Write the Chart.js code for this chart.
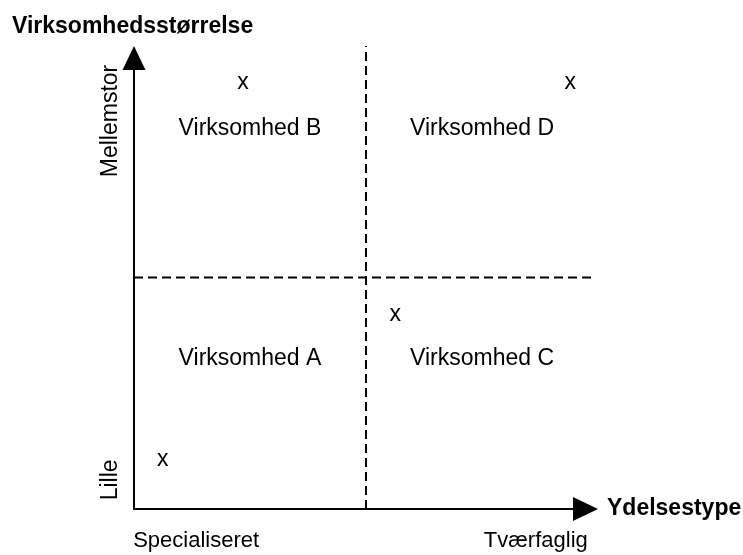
<!DOCTYPE html>
<html>
<head>
<meta charset="utf-8">
<script src="https://cdn.jsdelivr.net/npm/chart.js@4"></script>
<style>
  body { margin: 0; background: #fff; }
  #wrap { width: 743px; height: 555px; }
</style>
</head>
<body>
<div id="wrap"><canvas id="kort" width="743" height="555"></canvas></div>
<script>
// akser
var xTitel = 'Ydelsestype';
var yTitel = 'Virksomhedsstørrelse';
var xTickLabels = ['Specialiseret', 'Tværfaglig'];
var xTickPos = [1.34, 8.66];
var yTickLabels = ['Lille', 'Mellemstor'];
var yTickPos = [0.63, 8.38];

// kvadranter
var kvadrantNavne = ['Virksomhed A', 'Virksomhed B', 'Virksomhed C', 'Virksomhed D'];
var kvadrantX = [2.5, 2.5, 7.5, 7.5];
var kvadrantY = [3.25, 8.22, 3.25, 8.22];

// placering af virksomhederne (x)
var markX = [0.62, 2.35, 5.63, 9.4];
var markY = [1.02, 9.16, 4.15, 9.16];

var skillelinjeX = 5;
var skillelinjeY = 5;

var FONT = "'Liberation Sans', Arial, sans-serif";

function punkter(xs, ys) {
  var res = [];
  for (var i = 0; i < xs.length; i++) res.push({x: xs[i], y: ys[i]});
  return res;
}

var tekstPlugin = {
  id: 'tekster',
  afterDatasetsDraw: function(chart) {
    var ctx = chart.ctx;
    var xs = chart.scales.x, ys = chart.scales.y;
    var a = chart.chartArea;
    ctx.save();

    // akser med pile
    ctx.strokeStyle = '#000';
    ctx.fillStyle = '#000';
    ctx.lineWidth = 2;
    ctx.beginPath();
    ctx.moveTo(a.left, a.top + 20);
    ctx.lineTo(a.left, a.bottom);
    ctx.lineTo(a.right - 20, a.bottom);
    ctx.stroke();
    ctx.beginPath();
    ctx.moveTo(a.left, a.top);
    ctx.lineTo(a.left - 11.5, a.top + 24);
    ctx.lineTo(a.left + 11.5, a.top + 24);
    ctx.closePath();
    ctx.fill();
    ctx.beginPath();
    ctx.moveTo(a.right, a.bottom);
    ctx.lineTo(a.right - 25, a.bottom - 12);
    ctx.lineTo(a.right - 25, a.bottom + 12);
    ctx.closePath();
    ctx.fill();

    // kvadrant tekster
    ctx.font = '23px ' + FONT;
    ctx.textAlign = 'center';
    ctx.textBaseline = 'middle';
    var m1 = chart.getDatasetMeta(2);
    m1.data.forEach(function(p, i) {
      ctx.fillText(kvadrantNavne[i], p.x, p.y);
    });
    // x markeringer
    var m2 = chart.getDatasetMeta(3);
    m2.data.forEach(function(p) {
      ctx.fillText('x', p.x, p.y - 2);
    });

    // tick labels
    ctx.font = '22px ' + FONT;
    ctx.textBaseline = 'alphabetic';
    for (var i = 0; i < xTickLabels.length; i++) {
      ctx.fillText(xTickLabels[i], xs.getPixelForValue(xTickPos[i]), a.bottom + 38);
    }
    ctx.font = '23px ' + FONT;
    for (var j = 0; j < yTickLabels.length; j++) {
      ctx.save();
      ctx.translate(a.left - 17, ys.getPixelForValue(yTickPos[j]));
      ctx.rotate(-Math.PI / 2);
      ctx.fillText(yTickLabels[j], 0, 0);
      ctx.restore();
    }

    // akse titler
    ctx.font = 'bold 23px ' + FONT;
    ctx.textAlign = 'left';
    ctx.fillText(yTitel, 12, 33);
    ctx.textBaseline = 'middle';
    ctx.fillText(xTitel, a.right + 9, a.bottom);
    ctx.restore();
  }
};

new Chart(document.getElementById('kort'), {
  type: 'scatter',
  data: {
    datasets: [
      {
        data: [{x: skillelinjeX, y: 0}, {x: skillelinjeX, y: 10}],
        showLine: true, borderColor: '#000', borderWidth: 2,
        borderDash: [9, 5], pointRadius: 0
      },
      {
        data: [{x: 0, y: skillelinjeY}, {x: 9.94, y: skillelinjeY}],
        showLine: true, borderColor: '#000', borderWidth: 2,
        borderDash: [9, 5], pointRadius: 0
      },
      { data: punkter(kvadrantX, kvadrantY), pointRadius: 0 },
      { data: punkter(markX, markY), pointRadius: 0 }
    ]
  },
  options: {
    responsive: false,
    animation: false,
    events: [],
    layout: { padding: { left: 134, top: 46, right: 145, bottom: 46 } },
    plugins: { legend: { display: false }, tooltip: { enabled: false } },
    scales: {
      x: { type: 'linear', min: 0, max: 10, display: false },
      y: { type: 'linear', min: 0, max: 10, display: false }
    }
  },
  plugins: [tekstPlugin]
});
</script>
</body>
</html>
